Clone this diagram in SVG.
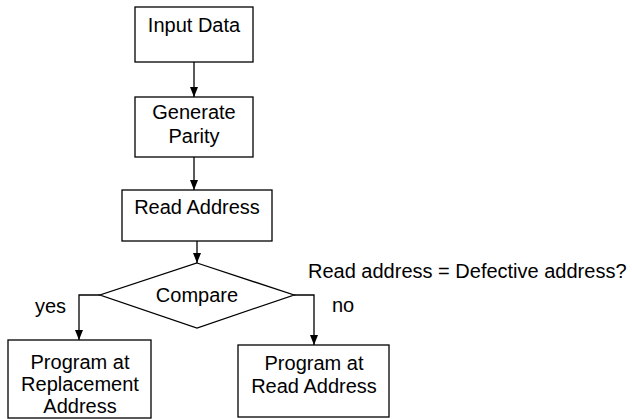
<svg xmlns="http://www.w3.org/2000/svg" width="632" height="419" viewBox="0 0 632 419">
<defs>
<marker id="ah" viewBox="0 0 10 10" refX="10" refY="5" markerWidth="10" markerHeight="10" markerUnits="userSpaceOnUse" orient="auto">
<path d="M0,1 L10,5 L0,9 z" fill="#000"/>
</marker>
</defs>
<style>
.box{fill:#fff;stroke:#000;stroke-width:1.3}
.t{font-family:"Liberation Sans",Arial,sans-serif;font-size:20px;fill:#000;text-anchor:middle}
.l{font-family:"Liberation Sans",Arial,sans-serif;font-size:20px;fill:#000}
.c{fill:none;stroke:#000;stroke-width:1.3;marker-end:url(#ah)}
</style>
<rect width="632" height="419" fill="#fff"/>
<g id="connectors">
<line class="c" x1="194" y1="62" x2="194" y2="97"/>
<line class="c" x1="194" y1="157" x2="194" y2="190"/>
<line class="c" x1="197" y1="241" x2="197" y2="263"/>
<polyline class="c" points="100,295 79,295 79,340"/>
<polyline class="c" points="294,295 314,295 314,345"/>
</g>
<g id="input">
<rect class="box" x="135" y="7" width="118" height="55"/>
<text class="t" x="194" y="32">Input Data</text>
</g>
<g id="parity">
<rect class="box" x="135" y="97" width="118" height="60"/>
<text class="t" x="194" y="119">Generate</text>
<text class="t" x="194" y="143">Parity</text>
</g>
<g id="read">
<rect class="box" x="122" y="190" width="150" height="51"/>
<text class="t" x="197" y="214">Read Address</text>
</g>
<g id="compare">
<polygon class="box" points="197,263 294,295 197,328 100,295"/>
<text class="t" x="197" y="302">Compare</text>
</g>
<g id="replacement">
<rect class="box" x="8" y="340" width="143" height="78"/>
<text class="t" x="80" y="369">Program at</text>
<text class="t" x="80" y="391">Replacement</text>
<text class="t" x="80" y="413">Address</text>
</g>
<g id="readaddr">
<rect class="box" x="238" y="345" width="151" height="72"/>
<text class="t" x="314" y="370">Program at</text>
<text class="t" x="314" y="393">Read Address</text>
</g>
<text class="l" x="308" y="278">Read address = Defective address?</text>
<text class="l" x="332" y="312">no</text>
<text class="l" x="35" y="313">yes</text>
</svg>
